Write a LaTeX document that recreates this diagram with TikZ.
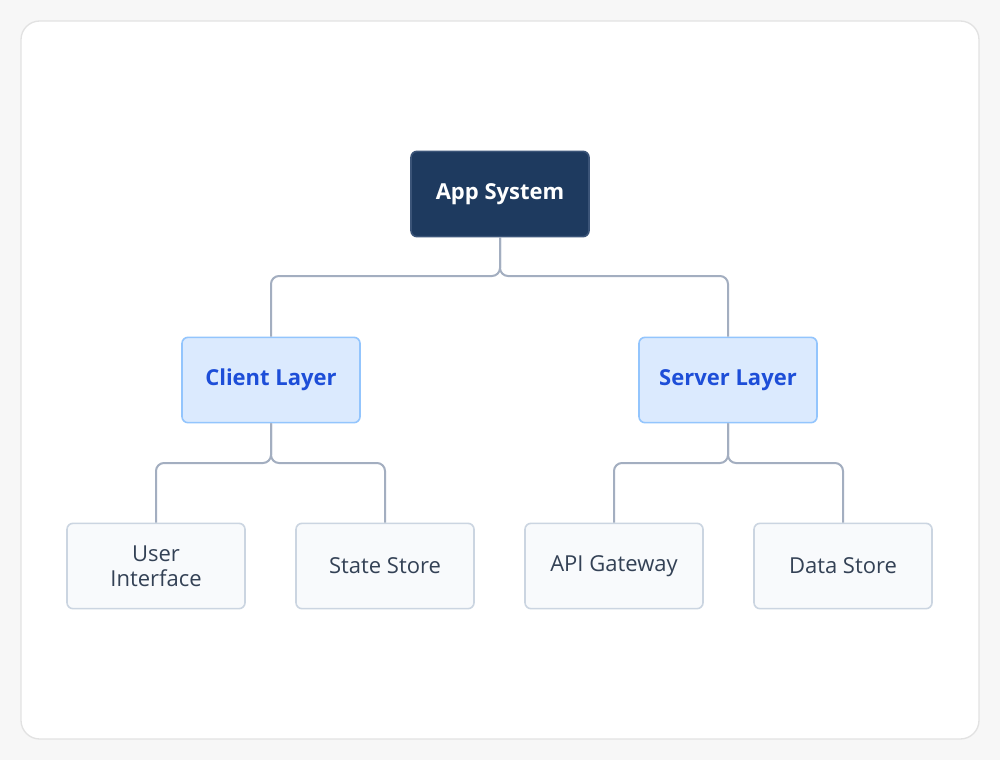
\documentclass[tikz,border=0pt]{standalone}
\usepackage{fontspec}
\setmainfont{Open Sans}
\begin{document}
\begin{tikzpicture}[x=0.75pt,y=-0.75pt,
  base/.style={draw,rounded corners=4.5pt,line width=1.2pt,minimum width=133.5pt,minimum height=64pt,align=center,font=\fontsize{16.5}{19}\selectfont,inner sep=2pt},
  root/.style={base,fill=root,draw=rootb,text=white,font=\fontsize{16.5}{19}\selectfont\bfseries},
  mid/.style={base,fill=midf,draw=midb,text=midt,font=\fontsize{16.5}{19}\selectfont\bfseries},
  leaf/.style={base,fill=leaff,draw=leafb,text=leaft},
  conn/.style={draw=connc,line width=1.5pt,rounded corners=6pt}]
\definecolor{root}{HTML}{1E3A5F}
\definecolor{rootb}{HTML}{3B5478}
\definecolor{midf}{HTML}{DBEAFE}
\definecolor{midb}{HTML}{93C5FD}
\definecolor{midt}{HTML}{1D4ED8}
\definecolor{leaff}{HTML}{F8FAFC}
\definecolor{leafb}{HTML}{CBD5E1}
\definecolor{leaft}{HTML}{334155}
\definecolor{connc}{HTML}{A3AEC0}
\definecolor{bg}{HTML}{F7F7F7}
\definecolor{frame}{HTML}{E2E2E2}
\fill[bg] (0,0) rectangle (1000,760);
\useasboundingbox (0,0) rectangle (1000,760);
\draw[frame,fill=white,line width=1pt,rounded corners=14pt] (21,21) rectangle (979,739);
\node[root] (app) at (500,194) {App System};
\node[mid] (client) at (271,380) {Client Layer};
\node[mid] (server) at (728,380) {Server Layer};
\node[leaf] (ui) at (156,566) {User\\Interface};
\node[leaf] (ss) at (385,566) {State Store};
\node[leaf] (api) at (614,566) {API Gateway};
\node[leaf] (ds) at (843,566) {Data Store};
\coordinate (j1) at (500,276);
\coordinate (j2) at (271,463);
\coordinate (j3) at (728,463);
\draw[conn] (app.south) -- (j1) -| (client.north);
\draw[conn] (app.south) -- (j1) -| (server.north);
\draw[conn] (client.south) -- (j2) -| (ui.north);
\draw[conn] (client.south) -- (j2) -| (ss.north);
\draw[conn] (server.south) -- (j3) -| (api.north);
\draw[conn] (server.south) -- (j3) -| (ds.north);
\end{tikzpicture}
\end{document}
